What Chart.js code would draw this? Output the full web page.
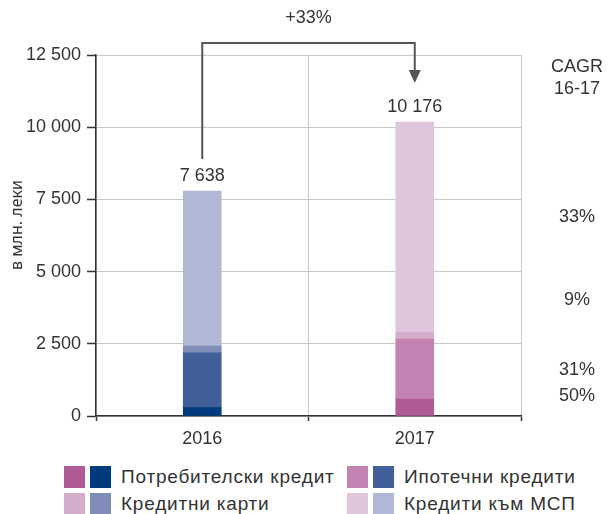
<!DOCTYPE html>
<html lang="bg">
<head>
<meta charset="utf-8">
<script src="https://cdn.jsdelivr.net/npm/chart.js@4"></script>
<style>
    body { margin: 0; background: #fff; }
    #wrap { position: relative; width: 610px; height: 514px; overflow: hidden; }
    #chart { position: absolute; left: 0; top: 0; }
    .legend { position: absolute; left: 0; top: 0; font-family: "Liberation Sans", Arial, sans-serif; font-size: 19px; color: #333; letter-spacing: 0.8px; }
    .legend .item { position: absolute; display: flex; align-items: center; white-space: nowrap; height: 22px; }
    .legend .sw { width: 21px; height: 22px; margin-right: 5px; }
    .legend .txt { margin-left: 5px; }
</style>
</head>
<body>
<div id="wrap">
    <canvas id="chart" width="610" height="455"></canvas>
    <div class="legend" id="legend"></div>
</div>
<script>
// ─── Data ───
const years = ['2016', '2017'];
const consumer = [290, 590];
const mortgage = [1900, 2075];
const cards = [230, 220];
const sme = [5370, 7290];
const totals = [7638, 10176];
const growth = '+33%';
const cagrLabels = ['50%', '31%', '9%', '33%'];
const seriesNames = ['Потребителски кредит', 'Ипотечни кредити', 'Кредитни карти', 'Кредити към МСП'];

// ─── Colors: 2016 in blues, 2017 in pinks ───
const BLUE = ['#003B7E', '#41609A', '#7F8DB8', '#B0B8D6'];
const PINK = ['#B05B95', '#C283B1', '#D5ADCB', '#E0C6DD'];
const TXT = '#333';
const FONT = '"Liberation Sans", Arial, sans-serif';

const fmt = v => String(v).replace(/\B(?=(\d{3})+(?!\d))/g, ' ');

const series = [consumer, mortgage, cards, sme];

// ─── Annotation plugin: totals, arrow, CAGR, axis title ───
const annotations = {
    id: 'annotations',
    afterDatasetsDraw(chart) {
        const ctx = chart.ctx;
        const x = chart.scales.x, y = chart.scales.y;
        const top = chart.chartArea.top;
        ctx.save();
        ctx.fillStyle = TXT;
        ctx.font = '18px ' + FONT;
        ctx.textAlign = 'center';
        ctx.textBaseline = 'middle';

        // stack totals
        const tops = years.map((_, i) => {
            const sum = series.reduce((s, arr) => s + arr[i], 0);
            return y.getPixelForValue(sum);
        });
        totals.forEach((t, i) => {
            ctx.fillText(fmt(t), x.getPixelForValue(i), tops[i] - 15);
        });

        // arrow
        const x0 = x.getPixelForValue(0), x1 = x.getPixelForValue(1);
        const yTop = top - 12;
        ctx.strokeStyle = '#555';
        ctx.lineWidth = 2;
        ctx.beginPath();
        ctx.moveTo(x0, tops[0] - 32);
        ctx.lineTo(x0, yTop);
        ctx.lineTo(x1, yTop);
        ctx.lineTo(x1, top + 18);
        ctx.stroke();
        ctx.fillStyle = '#555';
        ctx.beginPath();
        ctx.moveTo(x1 - 6, top + 15);
        ctx.lineTo(x1 + 6, top + 15);
        ctx.lineTo(x1, top + 28);
        ctx.closePath();
        ctx.fill();

        ctx.fillStyle = TXT;
        ctx.fillText(growth, (x0 + x1) / 2, 18);

        // CAGR column
        const cx = 577;
        ctx.fillText('CAGR', cx, 67);
        ctx.fillText('16-17', cx, 89);
        const cy = [396, 370, 300, 217];
        cagrLabels.forEach((l, i) => ctx.fillText(l, cx, cy[i]));

        // y axis title
        ctx.translate(17, 225);
        ctx.rotate(-Math.PI / 2);
        ctx.font = '16px "Noto Sans", ' + FONT;
        ctx.fillText('в млн. леки', 0, 0);
        ctx.restore();
    }
};

// ─── Chart ───
new Chart(document.getElementById('chart'), {
    type: 'bar',
    data: {
        labels: years,
        datasets: series.map((arr, i) => ({
            label: seriesNames[i],
            data: arr,
            backgroundColor: [BLUE[i], PINK[i]],
            barThickness: 38,
            borderWidth: 0
        }))
    },
    options: {
        responsive: false,
        animation: false,
        layout: { padding: { top: 55, right: 89, left: 0, bottom: 0 } },
        plugins: {
            legend: { display: false },
            tooltip: { enabled: false }
        },
        scales: {
            x: {
                stacked: true,
                afterFit: s => { s.height = 39; },
                border: { color: '#333', width: 1.5 },
                grid: {
                    offset: true,
                    color: '#c8c8c8',
                    borderDash: [2, 2],
                    tickColor: '#333',
                    tickBorderDash: [],
                    tickLength: 5,
                    tickWidth: 1.5
                },
                ticks: { color: TXT, font: { size: 18, family: FONT }, padding: 7 }
            },
            y: {
                stacked: true,
                min: 0,
                max: 12500,
                afterFit: s => { s.width = 96; },
                border: { color: '#333', width: 1.5 },
                grid: {
                    color: '#c8c8c8',
                    borderDash: [2, 2],
                    tickColor: '#333',
                    tickBorderDash: [],
                    tickLength: 9,
                    tickWidth: 1.5
                },
                ticks: {
                    stepSize: 2500,
                    color: TXT,
                    padding: 6,
                    font: { size: 18, family: FONT },
                    callback: v => fmt(v)
                }
            }
        }
    },
    plugins: [annotations]
});

// ─── Legend (two swatches per series) ───
const legend = document.getElementById('legend');
const spots = [[64, 466], [347, 466], [64, 493], [347, 493]];
seriesNames.forEach((name, i) => {
    const it = document.createElement('div');
    it.className = 'item';
    it.style.left = spots[i][0] + 'px';
    it.style.top = spots[i][1] + 'px';
    it.innerHTML = '<span class="sw" style="background:' + PINK[i] + '"></span>' +
        '<span class="sw" style="background:' + BLUE[i] + '"></span>' +
        '<span class="txt" lang="bg">' + name + '</span>';
    legend.appendChild(it);
});
</script>
</body>
</html>
